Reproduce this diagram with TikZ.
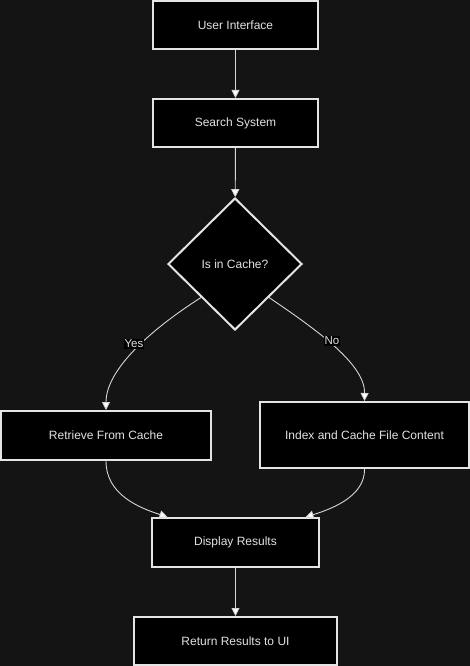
\documentclass[tikz,border=0pt]{standalone}
\usepackage{fontspec}
\setmainfont{Liberation Sans}
\usetikzlibrary{shapes.geometric,arrows.meta}
\definecolor{bgc}{HTML}{141414}
\definecolor{bordc}{HTML}{E4E4E4}
\definecolor{txtc}{HTML}{E2E2E2}
\definecolor{edgec}{HTML}{D6D6D6}
\tikzset{
  box/.style={draw=bordc, fill=black, line width=2pt, text=txtc,
    font=\fontsize{12}{14}\selectfont, inner sep=0pt, minimum height=48pt},
  dec/.style={diamond, draw=bordc, fill=black, line width=2pt, text=txtc,
    font=\fontsize{12}{14}\selectfont, inner sep=0pt, aspect=1, minimum width=134pt, minimum height=132pt},
  conn/.style={draw=edgec, line width=0.9pt, -{Triangle[length=8pt,width=8pt,fill=white]}},
  lbl/.style={fill=black, text=txtc, font=\fontsize{11.5}{13}\selectfont, inner sep=1pt}
}
\begin{document}
\begin{tikzpicture}[x=1pt,y=-1pt]
\fill[bgc] (0,0) rectangle (470,666);
\useasboundingbox (0,0) rectangle (470,666);
\node[box, minimum width=165pt] (ui) at (235.5,25) {User Interface};
\node[box, minimum width=165pt] (ss) at (235.5,123) {Search System};
\node[dec] (dia) at (235,264) {Is in Cache?};
\node[box, minimum width=210pt, minimum height=49pt] (ret) at (106,435.5) {Retrieve From Cache};
\node[box, minimum width=209pt, minimum height=66pt] (idx) at (364.5,435) {Index and Cache File Content};
\node[box, minimum width=167pt, minimum height=49pt] (disp) at (235.5,542.5) {Display Results};
\node[box, minimum width=203pt] (rr) at (235.5,641) {Return Results to UI};

\draw[conn] (ui) -- (ss);
\draw[conn] (ss) -- (dia);
\draw[conn] (dia.south west) .. controls (150,330) and (106,370) .. (ret.north);
\draw[conn] (dia.south east) .. controls (320,332) and (365,365) .. (idx.north);
\draw[conn] (ret.south) .. controls (106,495) and (140,508) .. ([xshift=-68pt]disp.north);
\draw[conn] (idx.south) .. controls (365,495) and (335,508) .. ([xshift=70pt]disp.north);
\draw[conn] (disp) -- (rr);

\node[lbl] (yes) at (134,344) {Yes};
\node[lbl] (no) at (332,341) {No};
\end{tikzpicture}
\end{document}
